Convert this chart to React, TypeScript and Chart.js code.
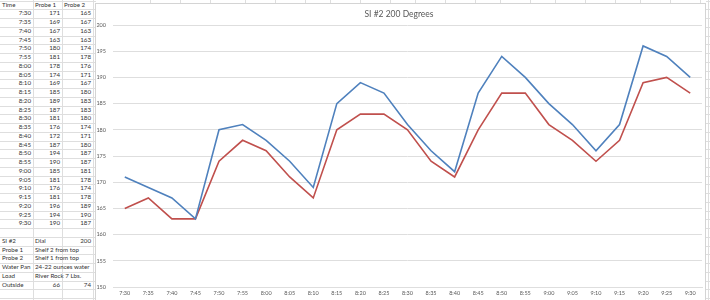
import React, { useEffect, useRef } from "react";
import { Chart, registerables } from "chart.js";

Chart.register(...registerables);

const times = ["7:30","7:35","7:40","7:45","7:50","7:55","8:00","8:05","8:10","8:15","8:20","8:25","8:30","8:35","8:40","8:45","8:50","8:55","9:00","9:05","9:10","9:15","9:20","9:25","9:30"];
const probe1 = [171,169,167,163,180,181,178,174,169,185,189,187,181,176,172,187,194,190,185,181,176,181,196,194,190];
const probe2 = [165,167,163,163,174,178,176,171,167,180,183,183,180,174,171,180,187,187,181,178,174,178,189,190,187];
const chartTitle = "SI #2 200 Degrees";
const notes: [string, string, string][] = [
  ["SI #2", "Dial", "200"],
  ["Probe 1", "Shelf 2 from top", ""],
  ["Probe 2", "Shelf 1 from top", ""],
  ["Water Pan", "24-22 ounces water", ""],
  ["Load", "River Rock 7 Lbs.", ""],
  ["Outside", "66", "74"],
];

const ROW_H = 8.75;
const ROW0 = 0.6;
const COLS = [0, 33, 62, 93];
const GRID = "#dedede";
const FONT = "Lato, 'Open Sans', sans-serif";

function Cell({ row, col, text, align, span }: { row: number; col: number; text: string; align: "left" | "right"; span?: boolean }) {
  const left = COLS[col];
  const width = span ? 200 : COLS[col + 1] - COLS[col];
  return (
    <div
      style={{
        position: "absolute",
        top: ROW0 + row * ROW_H,
        left,
        width,
        height: ROW_H,
        lineHeight: ROW_H + "px",
        fontSize: 6.2,
        fontFamily: FONT,
        color: "#333",
        textAlign: align,
        paddingLeft: 2,
        paddingRight: 2,
        boxSizing: "border-box",
        whiteSpace: "nowrap",
        overflow: "visible",
      }}
    >
      {text}
    </div>
  );
}

export default function App() {
  const ref = useRef<HTMLCanvasElement | null>(null);

  useEffect(() => {
    if (!ref.current) return;
    const chart = new Chart(ref.current, {
      type: "line",
      data: {
        labels: times,
        datasets: [
          { label: "Probe 1", data: probe1, borderColor: "#4F81BD", backgroundColor: "#4F81BD", borderWidth: 1.6, pointRadius: 0, tension: 0 },
          { label: "Probe 2", data: probe2, borderColor: "#C0504D", backgroundColor: "#C0504D", borderWidth: 1.6, pointRadius: 0, tension: 0 },
        ],
      },
      options: {
        animation: false,
        responsive: false,
        maintainAspectRatio: false,
        layout: { padding: { left: 0, right: 4, top: 0, bottom: 0 } },
        plugins: {
          legend: { display: false },
          tooltip: { enabled: false },
          title: {
            display: true,
            text: chartTitle,
            color: "#595959",
            font: { family: FONT, size: 8.5, weight: "normal" },
            padding: { top: 5, bottom: 5.8 },
          },
        },
        scales: {
          x: {
            offset: true,
            grid: { display: false, drawTicks: false, tickLength: 0 },
            border: { display: true, color: GRID, width: 1 },
            ticks: { color: "#595959", font: { family: FONT, size: 5.5 }, autoSkip: false, maxRotation: 0, minRotation: 0, padding: 3 },
            afterFit: (s: any) => { s.height = 13; },
          },
          y: {
            min: 150,
            max: 200,
            grid: { color: GRID, lineWidth: 1, drawTicks: false, tickLength: 0 },
            border: { display: false },
            ticks: { stepSize: 5, color: "#595959", font: { family: FONT, size: 5.5 }, padding: 7 },
            afterFit: (s: any) => { s.width = 17; },
          },
        },
      },
    });
    return () => chart.destroy();
  }, []);

  const cells: React.ReactNode[] = [];
  cells.push(<Cell key="h0" row={0} col={0} text="Time" align="left" />);
  cells.push(<Cell key="h1" row={0} col={1} text="Probe 1" align="left" />);
  cells.push(<Cell key="h2" row={0} col={2} text="Probe 2" align="left" />);
  times.forEach((t, i) => {
    cells.push(<Cell key={"t" + i} row={i + 1} col={0} text={t} align="right" />);
    cells.push(<Cell key={"a" + i} row={i + 1} col={1} text={String(probe1[i])} align="right" />);
    cells.push(<Cell key={"b" + i} row={i + 1} col={2} text={String(probe2[i])} align="right" />);
  });
  notes.forEach((n, i) => {
    const r = times.length + 2 + i;
    const numeric = /^\d+$/.test(n[1]);
    cells.push(<Cell key={"n0" + i} row={r} col={0} text={n[0]} align="left" />);
    cells.push(<Cell key={"n1" + i} row={r} col={1} text={n[1]} align={numeric ? "right" : "left"} span={!numeric} />);
    if (n[2]) cells.push(<Cell key={"n2" + i} row={r} col={2} text={n[2]} align="right" />);
  });

  const rowLines: React.ReactNode[] = [];
  for (let i = 0; i <= 35; i++) {
    const y = Math.round(ROW0 + i * ROW_H);
    rowLines.push(<div key={"rl" + i} style={{ position: "absolute", left: 0, top: y, width: 96, height: 1, background: GRID }} />);
    rowLines.push(<div key={"rr" + i} style={{ position: "absolute", left: 706, top: y, width: 4, height: 1, background: GRID }} />);
  }
  const colLines = [33, 62, 93, 708].map((x) => (
    <div key={"cl" + x} style={{ position: "absolute", left: x, top: 0, width: 1, height: 300, background: GRID }} />
  ));
  const topCols = [150, 180, 210, 245, 275, 305, 330, 360, 390, 415, 445, 475, 500, 530, 555, 585, 615, 640, 670, 700].map((x) => (
    <div key={"tc" + x} style={{ position: "absolute", left: x, top: 0, width: 1, height: 4, background: GRID }} />
  ));

  return (
    <div style={{ position: "fixed", left: 0, top: 0, width: 710, height: 300, background: "#fff", overflow: "hidden" }}>
      {rowLines}
      {colLines}
      {topCols}
      {cells}
      <div style={{ position: "absolute", left: 95, top: 3, width: 611, height: 300, border: "1px solid #d4d4d4", background: "#fff", boxSizing: "border-box" }} />
      <canvas ref={ref} width={610} height={296} style={{ position: "absolute", left: 96, top: 4, width: 610, height: 296 }} />
    </div>
  );
}
